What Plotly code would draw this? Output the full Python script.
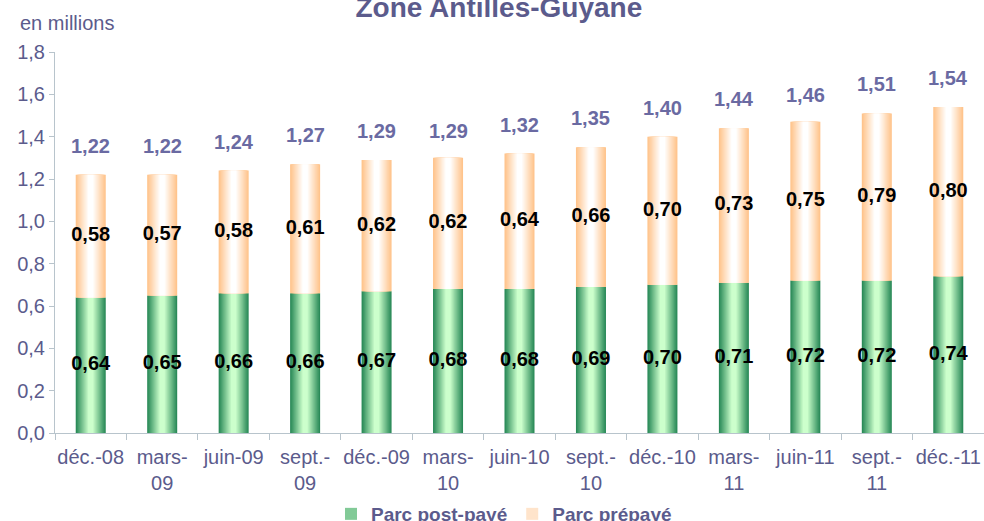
import plotly.graph_objects as go

categories = ["déc.-08", "mars-<br>09", "juin-09", "sept.-<br>09", "déc.-09", "mars-<br>10",
              "juin-10", "sept.-<br>10", "déc.-10", "mars-<br>11", "juin-11", "sept.-<br>11", "déc.-11"]
post_paye = [0.64, 0.65, 0.66, 0.66, 0.67, 0.68, 0.68, 0.69, 0.70, 0.71, 0.72, 0.72, 0.74]
prepaye = [0.58, 0.57, 0.58, 0.61, 0.62, 0.62, 0.64, 0.66, 0.70, 0.73, 0.75, 0.79, 0.80]
totaux = [1.22, 1.22, 1.24, 1.27, 1.29, 1.29, 1.32, 1.35, 1.40, 1.44, 1.46, 1.51, 1.54]

FONT = "Liberation Sans, Arial, sans-serif"
PURPLE = "#5b5b8c"
AXIS = "#b8c4cc"
x = list(range(len(categories)))

def fr(v):
    return ("%.2f" % v).replace(".", ",")

def lerp(c1, c2, t):
    a = [int(c1[i:i+2], 16) for i in (1, 3, 5)]
    b = [int(c2[i:i+2], 16) for i in (1, 3, 5)]
    return "#%02x%02x%02x" % tuple(round(a[i] + (b[i] - a[i]) * t) for i in range(3))

fig = go.Figure()
W = 0.42
N = 12

def add_gradient(name, y, base, edge, center):
    for k in range(N):
        t = k / (N - 1)
        fig.add_trace(go.Bar(
            x=x, y=y, base=base, width=W * (1 - 0.9 * k / N),
            marker=dict(color=lerp(edge, center, t), line=dict(width=0)),
            name="<b>%s</b>" % name, showlegend=(k == N // 2), legendgroup=name,
            hoverinfo="skip"))

add_gradient("Parc post-payé", post_paye, [0] * len(x), "#2a8a58", "#ccffcc")
add_gradient("Parc prépayé", prepaye, post_paye, "#ffc48c", "#ffffff")

# labels inside segments
fig.add_trace(go.Scatter(
    x=x, y=[p / 2 for p in post_paye], mode="text",
    text=["<b>%s</b>" % fr(v) for v in post_paye],
    textfont=dict(family=FONT, size=20, color="#000000"),
    showlegend=False, hoverinfo="skip"))
fig.add_trace(go.Scatter(
    x=x, y=[p + q / 2 for p, q in zip(post_paye, prepaye)], mode="text",
    text=["<b>%s</b>" % fr(v) for v in prepaye],
    textfont=dict(family=FONT, size=20, color="#000000"),
    showlegend=False, hoverinfo="skip"))

for xi, tot in zip(x, totaux):
    fig.add_annotation(x=xi, y=tot, text="<b>%s</b>" % fr(tot),
                       showarrow=False, yshift=29, yanchor="middle",
                       font=dict(family=FONT, size=20, color="#6a6aa2"))

fig.add_annotation(xref="paper", yref="paper", x=-0.040, y=(433 - 23) / 381, xanchor="left",
                   yanchor="middle", text="en millions", showarrow=False,
                   font=dict(family=FONT, size=20, color=PURPLE))

fig.update_layout(
    width=984, height=521,
    margin=dict(l=55, r=0, t=52, b=88, autoexpand=False),
    paper_bgcolor="white", plot_bgcolor="white",
    barmode="overlay",
    separators=", ",
    title=dict(text="<b>Zone Antilles-Guyane</b>", x=0.507, xanchor="center",
               y=1 - 7 / 521, yanchor="middle", font=dict(family=FONT, size=28, color=PURPLE)),
    legend=dict(orientation="h", x=0.4833, xanchor="center", y=(433 - 514) / 381, yanchor="middle",
                font=dict(family=FONT, size=19, color=PURPLE), itemwidth=30),
    font=dict(family=FONT),
)

fig.update_xaxes(
    type="linear", range=[-0.5, len(x) - 0.5], automargin=False,
    tickmode="array", tickvals=x, ticktext=categories,
    ticks="", showgrid=False, zeroline=False, ticklabelstandoff=6,
    showline=True, linecolor=AXIS, linewidth=1,
    tickfont=dict(family=FONT, size=20, color=PURPLE),
)
fig.update_xaxes(minor=dict(tickmode="array", tickvals=[i - 0.5 for i in range(len(x) + 1)],
                            ticks="outside", ticklen=6, tickcolor=AXIS, showgrid=False))
fig.update_yaxes(
    range=[0, 1.8], dtick=0.2, tick0=0, tickformat=".1f", automargin=False,
    ticks="outside", ticklen=5, tickcolor=AXIS,
    showgrid=False, zeroline=False,
    showline=True, linecolor=AXIS, linewidth=1,
    tickfont=dict(family=FONT, size=20, color=PURPLE),
)

fig.write_html("out.html", config={"displayModeBar": False},
               post_script="document.body.style.margin='0';document.body.style.overflow='hidden';")
